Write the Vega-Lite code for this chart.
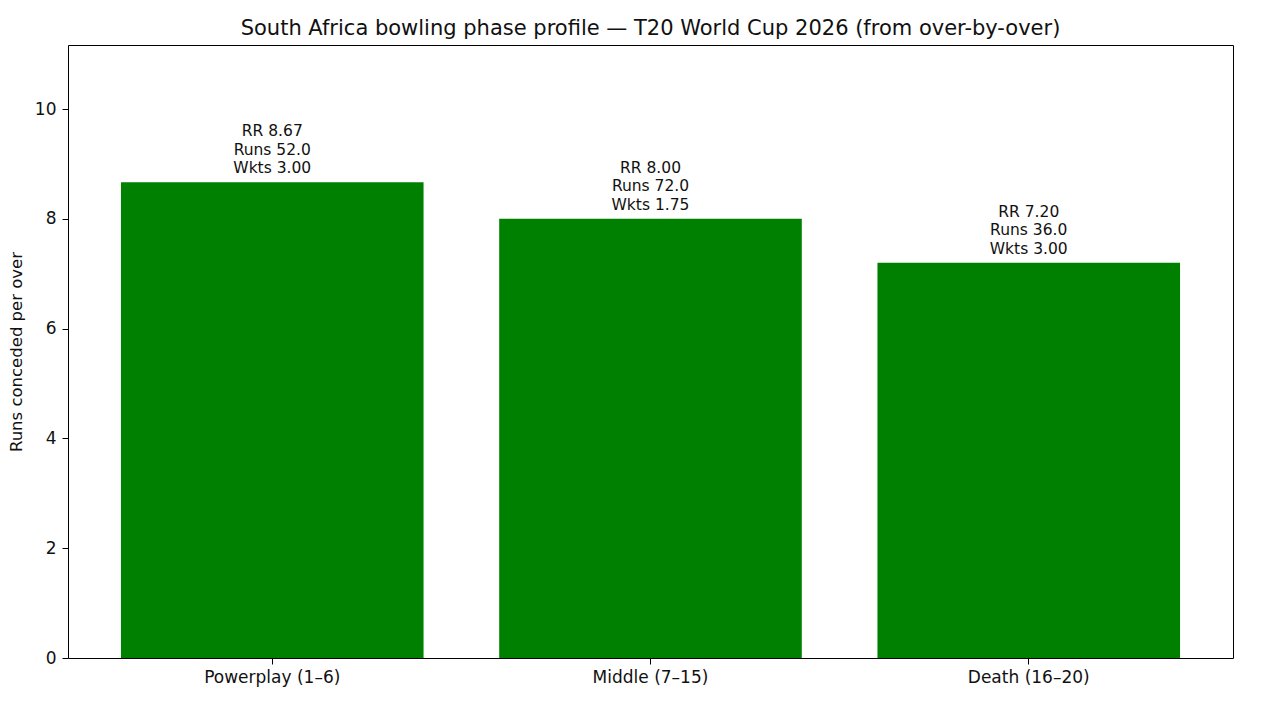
{
  "$schema": "https://vega.github.io/schema/vega-lite/v6.json",
  "autosize": "none",
  "width": 1165,
  "height": 613,
  "padding": {"left": 68, "top": 45, "right": 43, "bottom": 46},
  "background": "white",
  "config": {
    "font": "DejaVu Sans",
    "view": {"stroke": "black", "strokeWidth": 1},
    "axis": {
      "grid": false,
      "domain": false,
      "tickColor": "black",
      "tickSize": 6,
      "labelColor": "#111111",
      "labelFontSize": 17,
      "labelFont": "DejaVu Sans",
      "titleFont": "DejaVu Sans",
      "titleFontWeight": "normal",
      "titleFontSize": 16.5,
      "titleColor": "#111111"
    }
  },
  "title": {
    "text": "South Africa bowling phase profile — T20 World Cup 2026 (from over-by-over)",
    "font": "DejaVu Sans",
    "fontSize": 21,
    "fontWeight": "normal",
    "color": "#111111",
    "anchor": "middle",
    "offset": 6
  },
  "data": {
    "values": [
      {"phase": "Powerplay (1–6)", "rr": 8.667, "label": "RR 8.67\nRuns 52.0\nWkts 3.00"},
      {"phase": "Middle (7–15)", "rr": 8.0, "label": "RR 8.00\nRuns 72.0\nWkts 1.75"},
      {"phase": "Death (16–20)", "rr": 7.2, "label": "RR 7.20\nRuns 36.0\nWkts 3.00"}
    ]
  },
  "encoding": {
    "x": {
      "field": "phase",
      "type": "nominal",
      "sort": null,
      "scale": {"paddingInner": 0.2, "paddingOuter": 0.14},
      "axis": {"title": null, "labelAngle": 0, "labelPadding": 5}
    },
    "y": {
      "field": "rr",
      "type": "quantitative",
      "scale": {"domain": [0, 11.167], "nice": false},
      "axis": {"title": "Runs conceded per over", "values": [0, 2, 4, 6, 8, 10], "titlePadding": 10, "labelPadding": 6}
    }
  },
  "layer": [
    {"mark": {"type": "bar", "color": "#008000"}},
    {
      "mark": {
        "type": "text",
        "lineBreak": "\n",
        "baseline": "bottom",
        "align": "center",
        "dy": -43,
        "fontSize": 15.5,
        "lineHeight": 18.5,
        "color": "#111111"
      },
      "encoding": {"text": {"field": "label"}}
    }
  ]
}
